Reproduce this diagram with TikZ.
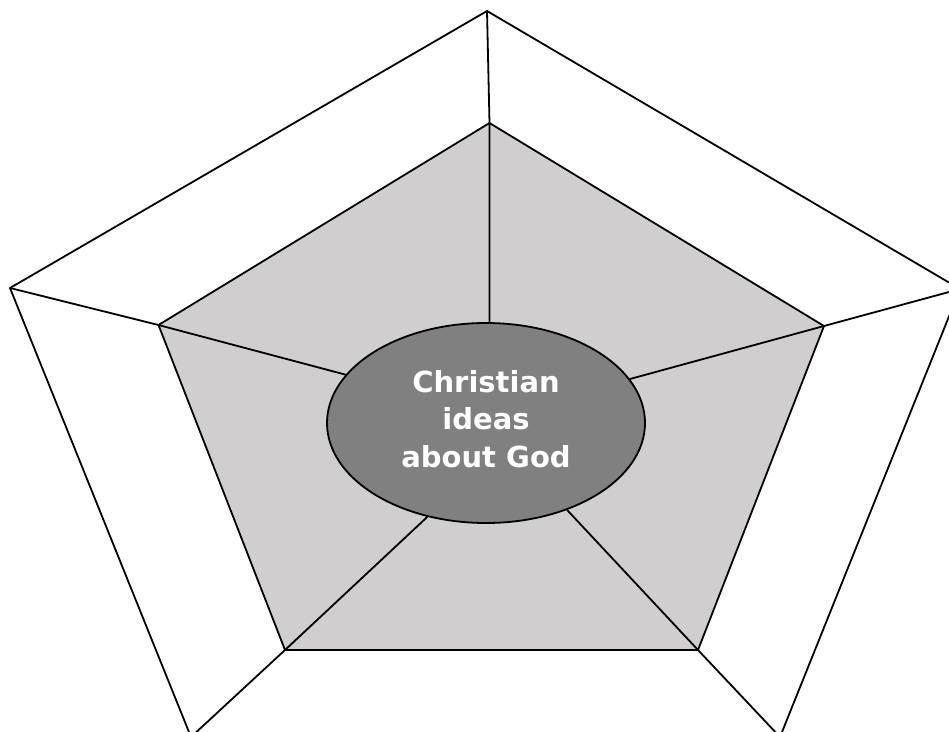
\documentclass[tikz,border=0pt]{standalone}
\usepackage{fontspec}
\newfontfamily\labelfont{DejaVu Sans}
\usetikzlibrary{shapes.geometric}
\definecolor{innergrey}{RGB}{208,206,207}
\definecolor{centregrey}{RGB}{128,128,128}
\begin{document}
\begin{tikzpicture}[x=1pt,y=-1pt,
  lineblack/.style={draw=black,line width=1.8pt,line join=miter},
  innerpent/.style={lineblack,fill=innergrey},
  hub/.style={ellipse,draw=black,line width=1.8pt,fill=centregrey,minimum width=318pt,minimum height=200pt,inner sep=0pt},
  spoke/.style={lineblack},
  lbl/.style={text=white,align=center,inner sep=0pt,font=\labelfont\bfseries\fontsize{29}{37.5}\selectfont}]
\useasboundingbox (0,0) rectangle (949,731);
\clip (0,0) rectangle (949,731);
\coordinate (o1) at (487,11);
\coordinate (o2) at (960,289);
\coordinate (o3) at (780,737);
\coordinate (o4) at (191,737);
\coordinate (o5) at (10,288);
\coordinate (i1) at (489.5,123);
\coordinate (i2) at (824,326);
\coordinate (i3) at (698,650);
\coordinate (i4) at (285,650);
\coordinate (i5) at (158.5,325);
\draw[lineblack] (o4) -- (o5) -- (o1) -- (o2) -- (o3);
\filldraw[innerpent] (i1) -- (i2) -- (i3) -- (i4) -- (i5) -- cycle;
\node[hub] (ell) at (486,423) {};
\draw[spoke] (o1) -- (i1) -- (ell.88);
\draw[spoke] (o2) -- (i2) -- (ell.17.7);
\draw[spoke] (o3) -- (i3) -- (ell.313);
\draw[spoke] (o4) -- (i4) -- (ell.238);
\draw[spoke] (o5) -- (i5) -- (ell.161.2);
\node[lbl] (lbl) at (486,419) {Christian\\ideas\\about God};
\end{tikzpicture}
\end{document}
